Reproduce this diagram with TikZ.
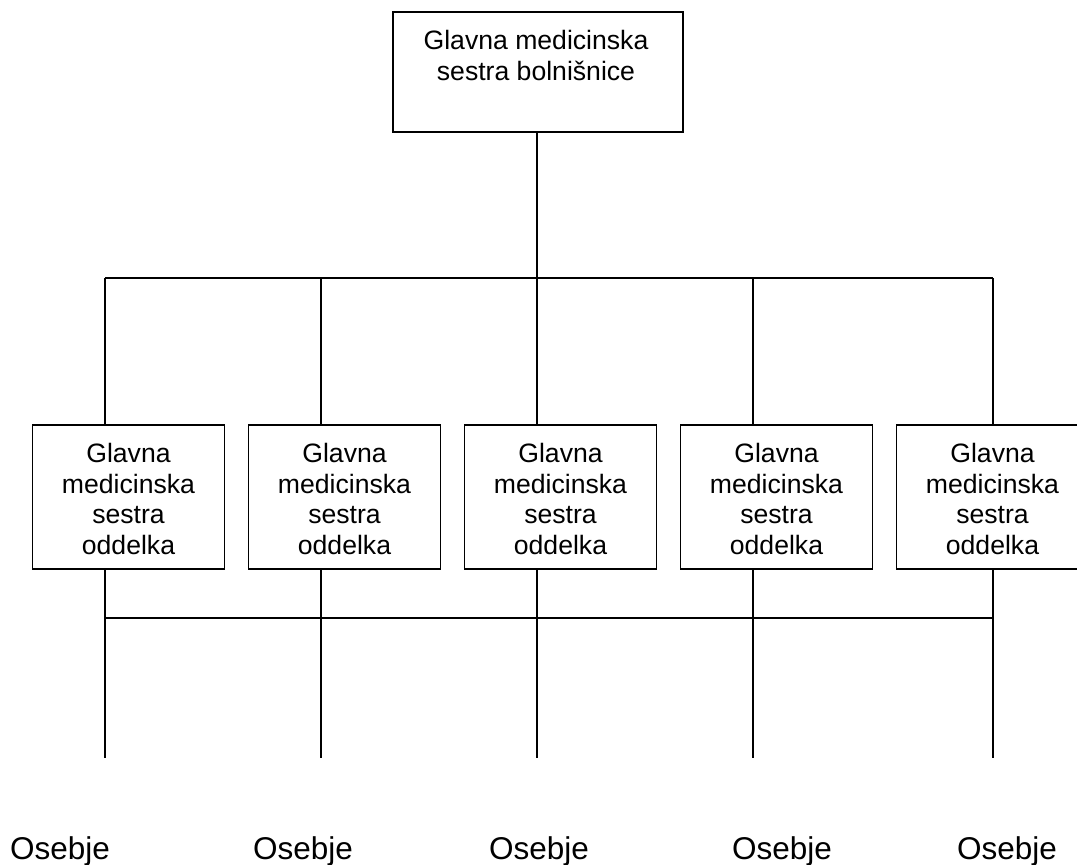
\documentclass[tikz,border=0pt]{standalone}
\usepackage{fontspec}
\setmainfont{Liberation Sans}
\begin{document}
\begin{tikzpicture}[x=1pt,y=-1pt,
  box/.style={draw=black,line width=1.7pt,fill=white,inner sep=0pt},
  boxtext/.style={inner sep=0pt,align=center,font=\fontsize{26.6}{30.6}\selectfont},
  staff/.style={inner sep=0pt,anchor=base,font=\fontsize{31.5}{36}\selectfont},
  link/.style={draw=black,line width=1.4pt},
  stub/.style={draw=black,line width=1.2pt}]
\clip (0,0) rectangle (1077,865);
\fill[white] (0,0) rectangle (1077,865);

% head of nursing
\node[box,minimum width=290pt,minimum height=120pt] (top) at (538,72) {};
\node[boxtext,anchor=north] (toptext) at (536,30) {Glavna medicinska\\sestra bolni\v{s}nice};

% ward head nurses
\foreach \i/\cx in {1/128.5,2/344.5,3/560.5,4/776.5,5/992.5}{
  \node[box,minimum width=192pt,minimum height=144pt] (b\i) at (\cx,497) {};
  \node[boxtext,anchor=north] (t\i) at (\cx,443) {Glavna\\medicinska\\sestra\\oddelka};
}

% bus coordinates
\foreach \i/\lx in {1/105,2/321,3/537,4/753,5/993}{
  \coordinate (u\i) at (\lx,278);
  \coordinate (l\i) at (\lx,618);
  \coordinate (e\i) at (\lx,758);
}

% upper bus
\draw[link] (top.south -| u3) -- (u3);
\draw[link] (u1) -- (u5);
\foreach \i in {1,...,5}{
  \draw[link] (u\i) -- (u\i |- b\i.north);
}

% lower bus and stubs towards staff
\draw[link] (l1) -- (l5);
\foreach \i in {1,...,5}{
  \draw[link] (b\i.south -| u\i) -- (l\i);
  \draw[stub] (l\i) -- (e\i);
}

% staff labels
\node[staff] (s1) at (60,859) {Osebje};
\node[staff] (s2) at (303,859) {Osebje};
\node[staff] (s3) at (539,859) {Osebje};
\node[staff] (s4) at (782,859) {Osebje};
\node[staff] (s5) at (1007,859) {Osebje};
\end{tikzpicture}
\end{document}
